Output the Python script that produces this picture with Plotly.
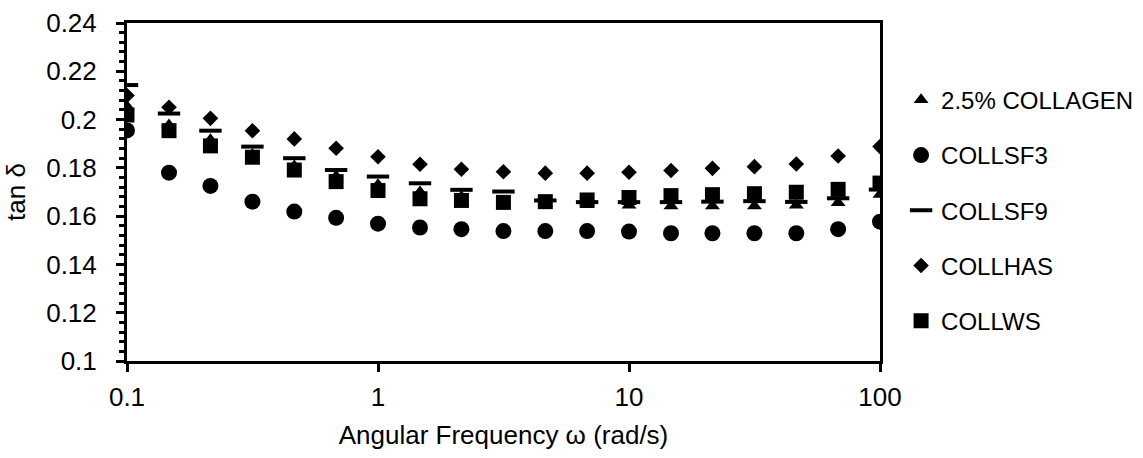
import plotly.graph_objects as go

freq = [0.1, 0.147, 0.215, 0.316, 0.464, 0.681, 1, 1.47, 2.15, 3.16, 4.64, 6.81,
        10, 14.7, 21.5, 31.6, 46.4, 68.1, 100]

collagen = [0.2055, 0.1978, 0.1916, 0.1855, 0.1808, 0.1765, 0.1730, 0.1700, 0.1680,
            0.1662, 0.1652, 0.1647, 0.1645, 0.1642, 0.1642, 0.1642, 0.1645, 0.1655, 0.1690]
collsf3 = [0.1955, 0.1780, 0.1725, 0.1660, 0.1619, 0.1593, 0.1569, 0.1553, 0.1546,
           0.1538, 0.1538, 0.1538, 0.1536, 0.1529, 0.1529, 0.1529, 0.1529, 0.1546, 0.1577]
collsf9 = [0.2143, 0.2025, 0.1954, 0.1888, 0.1840, 0.1791, 0.1764, 0.1736, 0.1709,
           0.1702, 0.1665, 0.1658, 0.1658, 0.1658, 0.1660, 0.1662, 0.1659, 0.1674, 0.1710]
collhas = [0.2100, 0.2051, 0.2005, 0.1954, 0.1920, 0.1881, 0.1846, 0.1815, 0.1794,
           0.1784, 0.1778, 0.1778, 0.1782, 0.1789, 0.1798, 0.1805, 0.1816, 0.1849, 0.1888]
collws = [0.2019, 0.1954, 0.1891, 0.1844, 0.1791, 0.1743, 0.1706, 0.1672, 0.1665,
          0.1657, 0.1660, 0.1667, 0.1677, 0.1685, 0.1689, 0.1693, 0.1699, 0.1711, 0.1737]

names = ["2.5% COLLAGEN", "COLLSF3", "COLLSF9", "COLLHAS", "COLLWS"]
xticks = [0.1, 1, 10, 100]
xticktext = ["0.1", "1", "10", "100"]

FONT = "Arial, Liberation Sans, sans-serif"

fig = go.Figure()
series = [
    (names[0], collagen, dict(symbol="triangle-up", size=13, color="black")),
    (names[1], collsf3, dict(symbol="circle", size=16, color="black")),
    (names[2], collsf9, dict(symbol="line-ew", size=16, color="black",
                             line=dict(width=4, color="black"))),
    (names[3], collhas, dict(symbol="diamond", size=12, color="black")),
    (names[4], collws, dict(symbol="square", size=15, color="black")),
]
for i, (nm, ys, mk) in enumerate(series):
    fig.add_trace(go.Scatter(x=freq, y=ys, mode="markers", name=nm, marker=mk,
                             legendgroup=str(i)))

fig.update_layout(
    width=1143, height=458,
    margin=dict(l=127, r=263, t=23, b=97, autoexpand=False),
    paper_bgcolor="white", plot_bgcolor="white",
    font=dict(family=FONT, size=26, color="black"),
    showlegend=True,
    legend=dict(x=1.028, y=0.838, xanchor="left", yanchor="top",
                font=dict(size=24), tracegroupgap=21, traceorder="grouped",
                itemwidth=30, bgcolor="rgba(0,0,0,0)"),
)
fig.update_xaxes(
    type="log", range=[-1, 2], tickvals=xticks, ticktext=xticktext,
    showline=True, linecolor="black", linewidth=3, mirror=True,
    ticks="outside", ticklen=8, tickwidth=2.5, tickcolor="black",
    showgrid=False, zeroline=False, ticklabelstandoff=3,
    title=dict(text="Angular Frequency ω (rad/s)", font=dict(size=26), standoff=15),
)
fig.update_yaxes(
    range=[0.1, 0.24], dtick=0.02, tick0=0.1,
    showline=True, linecolor="black", linewidth=3, mirror=True,
    ticks="outside", ticklen=8, tickwidth=2.5, tickcolor="black",
    minor=dict(dtick=0.004, ticks="outside", ticklen=5, tickwidth=2.5, tickcolor="black"),
    showgrid=False, zeroline=False, ticklabelstandoff=14,
    title=dict(text="tan δ", font=dict(size=26), standoff=14),
)

fig.write_html("out.html")
